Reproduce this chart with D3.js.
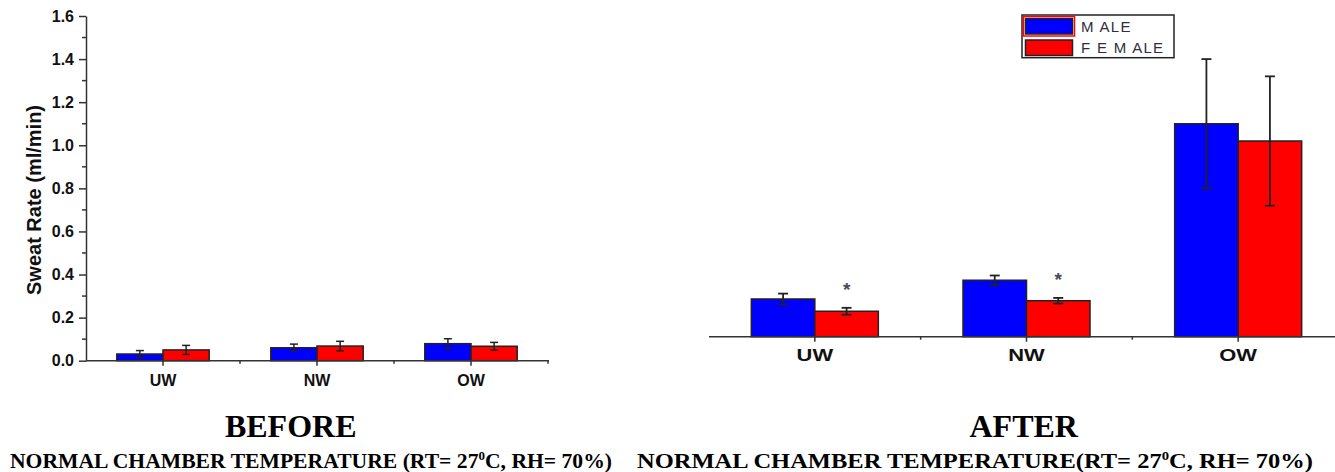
<!DOCTYPE html>
<html>
<head>
<meta charset="utf-8">
<script src="https://cdn.jsdelivr.net/npm/d3@7"></script>
<style>
  html, body { margin: 0; padding: 0; background: #fff; }
  svg { display: block; }
  .sans { font-family: "Liberation Sans", Arial, sans-serif; }
  .serif { font-family: "Liberation Serif", "Times New Roman", serif; }
</style>
</head>
<body>
<svg id="chart" width="1335" height="472"></svg>
<script>
// Weight groups on the x axis
const categories = ["UW", "NW", "OW"];
const seriesNames = ["M ALE", "F E M ALE"];

// Sweat rate (ml/min) before exposure
const beforeMale = [0.031, 0.060, 0.079];
const beforeMaleErr = [0.016, 0.017, 0.023];
const beforeFemale = [0.050, 0.068, 0.067];
const beforeFemaleErr = [0.021, 0.022, 0.018];

// Sweat rate (ml/min) after exposure
const afterMale = [0.287, 0.374, 1.10];
const afterMaleErr = [0.025, 0.022, 0.30];
const afterFemale = [0.230, 0.279, 1.02];
const afterFemaleErr = [0.016, 0.013, 0.30];
// significant male/female difference marker
const afterSignificant = [true, true, false];

const yTicks = [0, 0.2, 0.4, 0.6, 0.8, 1.0, 1.2, 1.4, 1.6];
const yMinorTicks = [0.1, 0.3, 0.5, 0.7, 0.9, 1.1, 1.3, 1.5];

const colors = ["#0000ff", "#ff0000"];
const ink = "#222";

const svg = d3.select("#chart");

function drawPanel(opts) {
  const g = svg.append("g");
  const x = d3.scaleBand().domain(categories).range(opts.xRange).padding(0);
  const y = opts.y;
  const bw = x.bandwidth() * 0.3;
  const base = y.range()[0];

  const series = [
    { vals: opts.male, errs: opts.maleErr, color: colors[0], off: -bw },
    { vals: opts.female, errs: opts.femaleErr, color: colors[1], off: 0 }
  ];

  series.forEach(s => {
    const c = x.bandwidth() / 2 + s.off;
    g.append("g").selectAll("rect")
      .data(categories)
      .join("rect")
      .attr("x", (d) => x(d) + c)
      .attr("y", (d, i) => y(s.vals[i]))
      .attr("width", bw)
      .attr("height", (d, i) => base - y(s.vals[i]))
      .attr("fill", s.color)
      .attr("stroke", ink)
      .attr("stroke-width", 1.5);
  });

  // error bars
  series.forEach(s => {
    const cx = (d) => x(d) + x.bandwidth() / 2 + s.off + bw / 2;
    const eg = g.append("g").attr("stroke", ink).attr("stroke-width", opts.errWidth);
    eg.selectAll("line.v").data(categories).join("line")
      .attr("class", "v")
      .attr("x1", cx).attr("x2", cx)
      .attr("y1", (d, i) => y(s.vals[i] + s.errs[i]))
      .attr("y2", (d, i) => y(s.vals[i] - s.errs[i]));
    ["+", "-"].forEach(sign => {
      eg.selectAll("line.c" + (sign === "+" ? "t" : "b")).data(categories).join("line")
        .attr("class", "c" + (sign === "+" ? "t" : "b"))
        .attr("x1", (d) => cx(d) - opts.cap / 2)
        .attr("x2", (d) => cx(d) + opts.cap / 2)
        .attr("y1", (d, i) => y(s.vals[i] + (sign === "+" ? 1 : -1) * s.errs[i]))
        .attr("y2", (d, i) => y(s.vals[i] + (sign === "+" ? 1 : -1) * s.errs[i]));
    });
  });

  // x axis
  const xAxis = g.append("g")
    .attr("transform", `translate(0,${base})`)
    .call(d3.axisBottom(x).tickSize(5).tickSizeOuter(0));
  xAxis.select(".domain").remove();
  xAxis.append("line")
    .attr("x1", opts.axisStart).attr("x2", opts.axisEnd)
    .attr("stroke", "#333").attr("stroke-width", 1.5);
  xAxis.selectAll(".tick line").attr("stroke", "#333").attr("stroke-width", 1.5);
  xAxis.selectAll(".tick text")
    .attr("class", "sans")
    .attr("y", opts.labelY)
    .attr("dy", null)
    .attr("fill", "#111")
    .style("font-size", "16px")
    .style("font-weight", "bold")
    .attr("transform", `scale(${opts.stretch},1)`);
  // minor ticks at the group boundaries
  const bounds = d3.range(1, categories.length + 1).map(i => opts.xRange[0] + x.step() * i);
  xAxis.selectAll("line.minor").data(bounds).join("line")
    .attr("class", "minor")
    .attr("x1", d => d).attr("x2", d => d)
    .attr("y1", 0).attr("y2", 3)
    .attr("stroke", "#333").attr("stroke-width", 1.5);

  return { g, x, y, bw };
}

// ---- BEFORE panel ----
const yLeft = d3.scaleLinear().domain([0, 1.6]).range([360.7, 16]);
drawPanel({
  xRange: [86, 548], y: yLeft,
  male: beforeMale, maleErr: beforeMaleErr,
  female: beforeFemale, femaleErr: beforeFemaleErr,
  cap: 8, errWidth: 1.5, axisStart: 86, axisEnd: 549,
  labelY: 25, stretch: 1
});

const yAxisG = svg.append("g")
  .attr("transform", "translate(86,0)")
  .call(d3.axisLeft(yLeft).tickValues(yTicks).tickFormat(d3.format(".1f"))
    .tickSize(7).tickSizeOuter(0).tickPadding(5));
yAxisG.select(".domain").attr("stroke", "#333").attr("stroke-width", 1.5);
yAxisG.selectAll(".tick line").attr("stroke", "#333").attr("stroke-width", 1.5);
yAxisG.selectAll(".tick text")
  .attr("class", "sans")
  .attr("fill", "#111")
  .style("font-size", "16px")
  .style("font-weight", "bold");
yAxisG.selectAll("line.minor").data(yMinorTicks).join("line")
  .attr("class", "minor")
  .attr("x1", -4).attr("x2", 0)
  .attr("y1", d => yLeft(d)).attr("y2", d => yLeft(d))
  .attr("stroke", "#333").attr("stroke-width", 1.5);

svg.append("text")
  .attr("class", "sans")
  .attr("transform", "translate(41,200) rotate(-90)")
  .attr("text-anchor", "middle")
  .attr("fill", "#111")
  .style("font-size", "20px")
  .style("font-weight", "bold")
  .text("Sweat Rate (ml/min)");

// ---- AFTER panel ----
const yRight = d3.scaleLinear().domain([0.112, 1.6]).range([336.7, 16]);
const after = drawPanel({
  xRange: [709, 1344], y: yRight,
  male: afterMale, maleErr: afterMaleErr,
  female: afterFemale, femaleErr: afterFemaleErr,
  cap: 10, errWidth: 1.8, axisStart: 709, axisEnd: 1335,
  labelY: 24.3, stretch: 1.37
});

// significance asterisks above the female bars
after.g.append("g").selectAll("text")
  .data(categories.filter((d, i) => afterSignificant[i]))
  .join("text")
  .attr("class", "sans")
  .attr("text-anchor", "middle")
  .attr("x", d => after.x(d) + after.x.bandwidth() / 2 + after.bw / 2)
  .attr("y", d => {
    const i = categories.indexOf(d);
    return yRight(afterFemale[i] + afterFemaleErr[i]) - 12;
  })
  .attr("fill", "#4a4a5a")
  .style("font-size", "19px")
  .style("font-weight", "bold")
  .text("*");

// legend
const lg = svg.append("g").attr("transform", "translate(1022,15)");
lg.append("rect")
  .attr("width", 152).attr("height", 42.7)
  .attr("fill", "#fff").attr("stroke", "#222").attr("stroke-width", 1.5);
seriesNames.forEach((name, i) => {
  const row = lg.append("g").attr("transform", `translate(2,${2 + i * 21.5})`);
  if (i === 0) {
    row.append("rect")
      .attr("x", -0.5).attr("y", -0.5).attr("width", 51).attr("height", 19.5)
      .attr("fill", "none").attr("stroke", "#ff0000").attr("stroke-width", 1.5);
  }
  row.append("rect")
    .attr("x", 1.5).attr("y", 1.5).attr("width", 47).attr("height", 15.5)
    .attr("fill", colors[i]).attr("stroke", ink).attr("stroke-width", 1.5);
  row.append("text")
    .attr("class", "sans")
    .attr("x", 57).attr("y", 14.5)
    .attr("fill", "#2e2e40")
    .style("font-size", "15px")
    .style("font-weight", "500")
    .style("letter-spacing", "1.3px")
    .text(name);
});

// panel titles
function caption(cx, title, sx, width, sub) {
  svg.append("text")
    .attr("class", "serif")
    .attr("x", cx).attr("y", 436.5)
    .attr("text-anchor", "middle")
    .attr("fill", "#000")
    .style("font-size", "32px")
    .style("font-weight", "bold")
    .text(title);
  const t = svg.append("text")
    .attr("class", "serif")
    .attr("x", sx).attr("y", 468)
    .attr("fill", "#000")
    .attr("textLength", width)
    .attr("lengthAdjust", "spacingAndGlyphs")
    .style("font-size", "20px")
    .style("font-weight", "bold");
  t.append("tspan").text(sub[0]);
  t.append("tspan").attr("dy", -8).style("font-size", "12px").text("0");
  t.append("tspan").attr("dy", 8).text(sub[1]);
}
caption(290.7, "BEFORE", 10, 602, ["NORMAL CHAMBER TEMPERATURE (RT= 27", "C, RH= 70%)"]);
caption(1023.7, "AFTER", 637, 676, ["NORMAL CHAMBER TEMPERATURE(RT= 27", "C, RH= 70%)"]);
</script>
</body>
</html>
